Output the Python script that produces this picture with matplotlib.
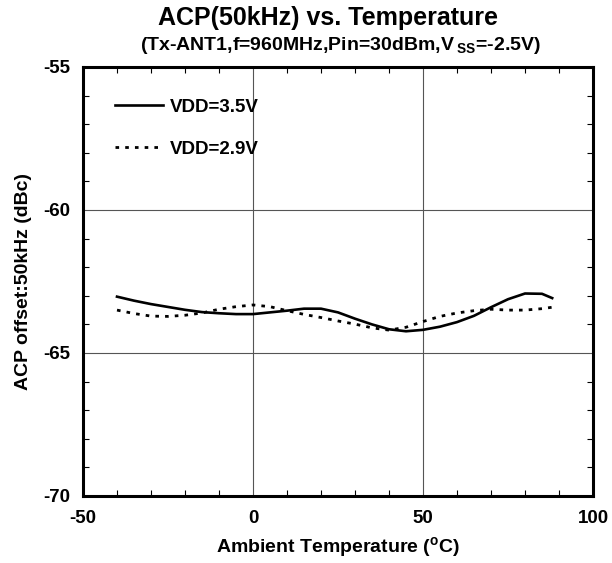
import numpy as np
import matplotlib
matplotlib.use('Agg')
import matplotlib.pyplot as plt
from matplotlib.ticker import MultipleLocator

plt.rcParams['font.family'] = ['Liberation Sans', 'DejaVu Sans']
plt.rcParams['font.weight'] = 'bold'
plt.rcParams['axes.unicode_minus'] = False

# temperature (degC) and ACP (dBc)
temp = [-40, -35, -30, -25, -20, -15, -10, -5, 0, 5, 10, 15, 20, 25,
        30, 35, 40, 45, 50, 55, 60, 65, 70, 75, 80, 85, 88]
acp_35 = [-63.03, -63.17, -63.29, -63.39, -63.49, -63.57, -63.61, -63.64, -63.64,
          -63.58, -63.52, -63.45, -63.45, -63.58, -63.80, -64.00, -64.17, -64.24,
          -64.19, -64.08, -63.92, -63.70, -63.40, -63.12, -62.92, -62.93, -63.08]
acp_29 = [-63.50, -63.62, -63.71, -63.72, -63.68, -63.60, -63.47, -63.38, -63.32,
          -63.38, -63.52, -63.65, -63.76, -63.88, -63.99, -64.12, -64.20, -64.10,
          -63.90, -63.72, -63.60, -63.52, -63.47, -63.50, -63.50, -63.45, -63.40]

fig = plt.figure(figsize=(6.12, 5.63), dpi=100)
ax = fig.add_axes([83/612, 1 - 496/563, 510/612, 429/563])

ax.plot(temp, acp_35, color='black', lw=1.9, label='VDD=3.5V')
ax.plot(temp, acp_29, color='black', lw=2.0, linestyle=(0, (1.3, 2.2)), label='VDD=2.9V')

ax.set_xlim(-50, 100)
ax.set_ylim(-70, -55)
ax.xaxis.set_major_locator(MultipleLocator(50))
ax.xaxis.set_minor_locator(MultipleLocator(10))
ax.yaxis.set_major_locator(MultipleLocator(5))
ax.yaxis.set_minor_locator(MultipleLocator(1))
ax.tick_params(which='both', direction='in', top=True, right=True, width=0.8)
ax.tick_params(which='major', length=0, labelsize=13.5)
ax.tick_params(axis='x', which='major', pad=10)
ax.tick_params(axis='y', which='major', pad=9.5)
ax.tick_params(which='minor', length=4)
ax.grid(True, which='major', color='#555555', lw=0.8)
for s in ax.spines.values():
    s.set_linewidth(2.2)

ax.set_xlabel('Ambient Temperature ($\\mathregular{^o}$C)', fontsize=14, fontweight='bold', labelpad=6)
ax.set_ylabel('ACP offset:50kHz (dBc)', fontsize=14, fontweight='bold', labelpad=8)

fig.text(328/612, 1 - 18/563, 'ACP(50kHz) vs. Temperature', ha='center', va='center',
         fontsize=18, fontweight='bold')
fig.text(340/612, 1 - 46/563, '(Tx-ANT1,f=960MHz,Pin=30dBm,V$\\mathregular{\\,_{SS}}$=-2.5V)',
         ha='center', va='center', fontsize=14, fontweight='bold')

leg = ax.legend(loc='upper left', bbox_to_anchor=(0.0627, 0.926), frameon=False,
                fontsize=13.5, handlelength=2.56, handletextpad=0.37, labelspacing=1.33,
                borderaxespad=0, borderpad=0)
for t in leg.get_texts():
    t.set_fontweight('bold')

fig.savefig('out.png', dpi=100)
